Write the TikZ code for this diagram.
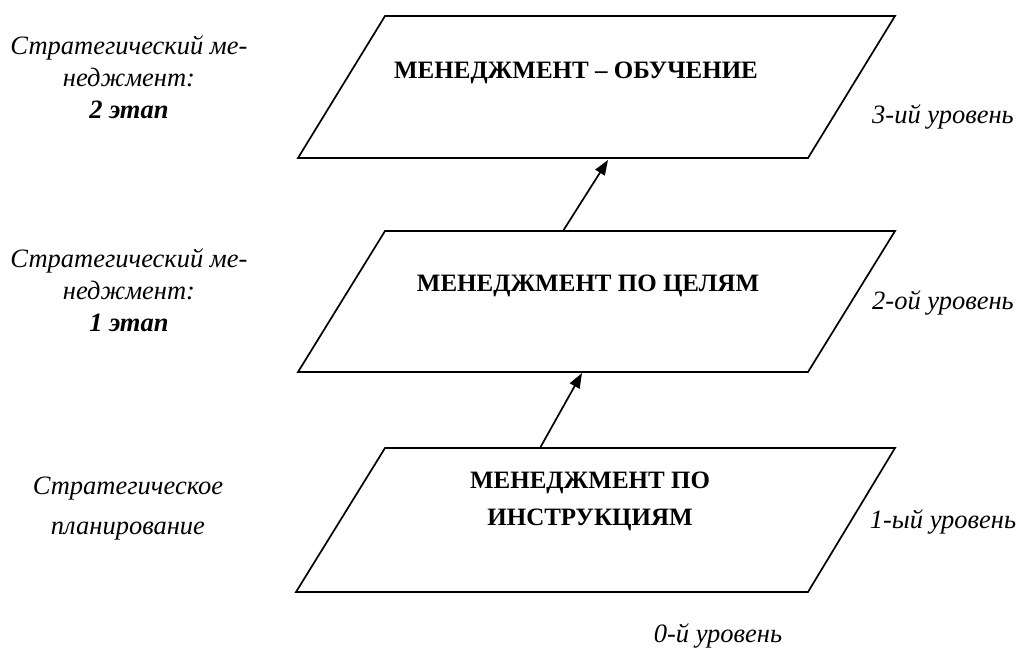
\documentclass[tikz,border=0pt]{standalone}
\usepackage{fontspec}
\setmainfont{Liberation Serif}[BoldFont={Liberation Serif Bold}]
\usetikzlibrary{arrows.meta,positioning}

\begin{document}
\begin{tikzpicture}[x=1pt,y=-1pt,line width=1.7pt,
    level/.style={font=\fontsize{25}{37}\selectfont\bfseries, align=center},
    side/.style={font=\fontsize{26.5}{32}\selectfont\itshape, align=center},
    lift/.style={-{Triangle[length=15pt,width=11pt]}}]
    \useasboundingbox (0,0) rectangle (1021,657);

    % Уровень 3
    \draw (385,16) -- (895,16) -- (808,158) -- (298,158) -- cycle;
    \node[level] (obuch) at (576,73) {МЕНЕДЖМЕНТ – ОБУЧЕНИЕ};

    % Уровень 2
    \draw (385,231) -- (895,231) -- (808,372) -- (298,372) -- cycle;
    \node[level] (celi) at (588,286) {МЕНЕДЖМЕНТ ПО ЦЕЛЯМ};

    % Уровень 1
    \draw (385,448) -- (895,448) -- (808,592) -- (296,592) -- cycle;
    \node[level] (instr) at (590,501) {МЕНЕДЖМЕНТ ПО\\ИНСТРУКЦИЯМ};

    % Переходы
    \coordinate (a1) at (540,448);
    \coordinate (b1) at (582,373);
    \coordinate (a2) at (563,231);
    \coordinate (b2) at (608,160);
    \draw[lift] (a1) -- (b1);
    \draw[lift] (a2) -- (b2);

    % Этапы слева
    \node[side] (etap2) at (129,77) {Стратегический ме-\\неджмент:\\\textbf{2 этап}};
    \node[side] (etap1) at (129,290) {Стратегический ме-\\неджмент:\\\textbf{1 этап}};
    \node[side] (plan) at (128,509) {Стратегическое\\[8pt]планирование};

    % Уровни справа
    \node[side] (u3) at (943,117) {3-ий уровень};
    \node[side] (u2) at (943,303) {2-ой уровень};
    \node[side] (u1) at (943,522) {1-ый уровень};
    \node[side] (u0) at (718,636) {0-й уровень};
\end{tikzpicture}
\end{document}
